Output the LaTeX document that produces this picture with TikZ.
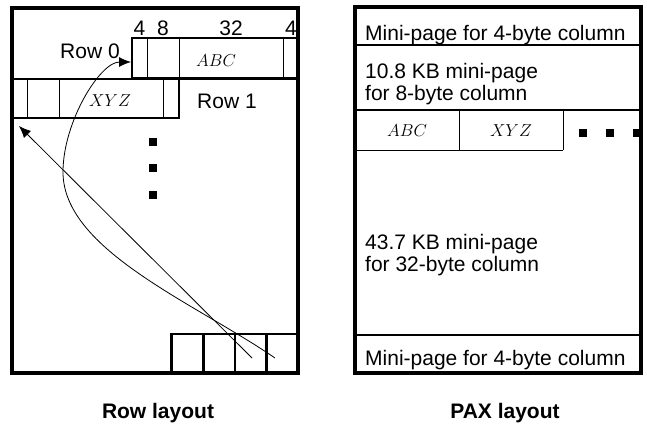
\documentclass[tikz,border=0pt]{standalone}
\usepackage{fontspec}
\setmainfont{Liberation Sans}
\usetikzlibrary{arrows.meta,positioning,calc}

\begin{document}
\begin{tikzpicture}[x=1pt,y=-1pt,
    outer/.style={line width=4pt},
    recbox/.style={line width=2.5pt},
    sep/.style={line width=2pt},
    cell/.style={line width=1pt},
    txt/.style={inner sep=0pt, font=\fontsize{21}{22}\selectfont},
    val/.style={inner sep=0pt, font=\fontsize{16}{18}\selectfont},
    caption/.style={inner sep=0pt, font=\fontsize{21}{24}\selectfont\bfseries},
    dot/.style={fill=black, minimum size=7.5pt, inner sep=0pt},
    slot/.style={draw, line width=2.5pt, minimum width=31.5pt, minimum height=39pt, inner sep=0pt},
    ptr/.style={line width=0.8pt, -{Latex[length=12pt,width=10pt]}}]
  \useasboundingbox (0,0) rectangle (647,424);

  % --- row layout ---
  \draw[outer] (12,8) rectangle (298,373);
  \draw[sep] (179,79) -- (298,79);
  % row 0
  \draw[recbox] (132,38) rectangle (298,78);
  \foreach \x in {147,179,283} \draw[cell] (\x,38) -- (\x,78);
  % row 1
  \draw[recbox] (12,79) rectangle (179,118);
  \foreach \x in {27,59,163} \draw[cell] (\x,79) -- (\x,118);

  \node[txt, anchor=base] (w1) at (139.5,35) {4};
  \node[txt, anchor=base] (w2) at (163,35) {8};
  \node[txt, anchor=base] (w3) at (231,35) {32};
  \node[txt, anchor=base] (w4) at (291,35) {4};
  \node[txt, anchor=base] (r0) at (90,58) {Row 0};
  \node[txt, anchor=base] (r1) at (227,108) {Row 1};
  \node[val] (abc0) at (216,61) {$ABC$};
  \node[val] (xyz1) at (110,101) {$XYZ$};

  \foreach \y [count=\i] in {142,168,195}
    \node[dot] (d\i) at (153,\y) {};

  % slot array
  \foreach \x [count=\i] in {187,219,250.5,281.5}
    \node[slot] (s\i) at (\x,353.5) {};

  \coordinate (row0) at (131,62);
  \coordinate (row1) at (19,126);
  \coordinate (p3) at (252,358);
  \coordinate (p4) at (275,358);
  \draw[ptr] (p3) -- (row1);
  \draw[ptr] (p4) .. controls (195,303) and (63,250) .. (63,172)
                  .. controls (63,122) and (100,62) .. (row0);

  % --- PAX layout ---
  \draw[outer] (355,7) rectangle (641,373);
  \draw[sep] (355,45) -- (641,45);
  \draw[sep] (355,110) -- (641,110);
  \draw[recbox] (355,335) -- (641,335);
  \draw[cell] (355,150) -- (563,150);
  \draw[cell] (459,110) -- (459,150);
  \draw[cell] (563,110) -- (563,150);

  \node[txt, anchor=base west] (mp1) at (365,40) {Mini-page for 4-byte column};
  \node[txt, anchor=west, align=left] (mp2) at (365,84) {10.8 KB mini-page\\for 8-byte column};
  \node[val] (abc) at (407,131) {$ABC$};
  \node[val] (xyz) at (511,131) {$XYZ$};
  \foreach \x [count=\i] in {583,610,637}
    \node[dot] (e\i) at (\x,133) {};
  \node[txt, anchor=west, align=left] (mp3) at (365,255) {43.7 KB mini-page\\for 32-byte column};
  \node[txt, anchor=base west] (mp4) at (365,365) {Mini-page for 4-byte column};

  \node[caption, anchor=base] (cap1) at (158,418) {Row layout};
  \node[caption, anchor=base] (cap2) at (505,418) {PAX layout};
\end{tikzpicture}
\end{document}
